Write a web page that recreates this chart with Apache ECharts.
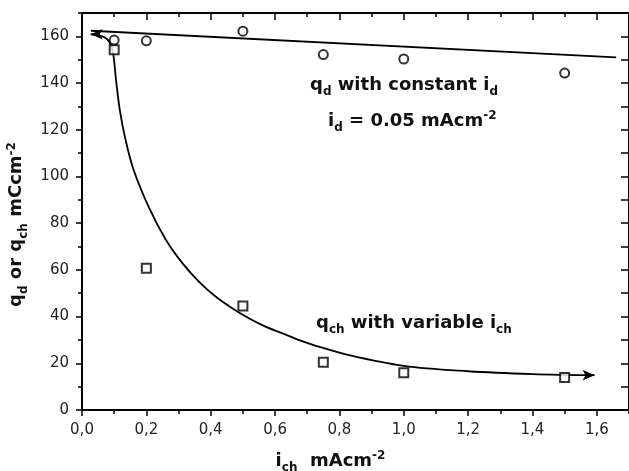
<!DOCTYPE html>
<html>
<head>
    <meta charset="utf-8">
    <title>q_d and q_ch vs i_ch</title>
    <script src="https://cdn.jsdelivr.net/npm/echarts@6/dist/echarts.min.js"></script>
    <style>
        html, body { margin: 0; padding: 0; background: #fff; }
        #chart { width: 629px; height: 471px; }
    </style>
</head>
<body>
<div id="chart"></div>
<script>
    // measured points
    var iCh = [0.1, 0.2, 0.5, 0.75, 1.0, 1.5];
    var qd = [158.4, 158.1, 162.2, 152.2, 150.3, 144.3];
    var qch = [154.3, 60.7, 44.5, 20.5, 15.9, 13.9];

    // straight trend line for q_d
    var qdLineX = [0.028, 1.66];
    var qdLineY = [162.4, 151.0];

    // hand-drawn curve for q_ch, arrows at both ends
    var qchCurveX = [0.027, 0.05, 0.07, 0.085, 0.096, 0.106, 0.118, 0.135, 0.16, 0.209, 0.261, 0.3125, 0.364, 0.416, 0.468, 0.52, 0.572, 0.623, 0.675, 0.727, 0.83, 1.0, 1.2, 1.4, 1.593];
    var qchCurveY = [160.9, 160.5, 159.6, 157.6, 153.5, 141.0, 128.0, 116.0, 103.0, 86.4, 72.8, 62.8, 54.9, 48.5, 43.5, 39.2, 35.6, 32.8, 29.9, 27.5, 23.5, 18.9, 16.6, 15.4, 14.9];

    var xTicks = [0, 1.7, 0.2];   // min, max, step
    var yTicks = [0, 170, 20];

    var FONT = 'DejaVu Sans';
    var rich = {
        b: { fontFamily: FONT, fontWeight: 'bold', fontSize: 18, fill: '#111', color: '#111', verticalAlign: 'middle' },
        sub: { fontFamily: FONT, fontWeight: 'bold', fontSize: 12, fill: '#111', color: '#111', verticalAlign: 'middle', padding: [14, 0, 0, 0] },
        sup: { fontFamily: FONT, fontWeight: 'bold', fontSize: 12, fill: '#111', color: '#111', verticalAlign: 'middle', padding: [0, 0, 10, 0] }
    };

    var chart = echarts.init(document.getElementById('chart'));

    var qchLine = qchCurveX.map(function (x, i) {
        var item = { value: [x, qchCurveY[i]] };
        if (i === 0) {
            item.symbol = 'arrow'; item.symbolSize = [8, 12]; item.symbolRotate = 90;
        } else if (i === qchCurveX.length - 1) {
            item.symbol = 'arrow'; item.symbolSize = [8, 12]; item.symbolRotate = -90;
        }
        return item;
    });

    function commaLabel(v) {
        return v.toFixed(1).replace('.', ',');
    }

    var axisLine = { show: true, onZero: false, lineStyle: { color: '#000', width: 2 } };
    var noLine = { show: false, onZero: false };

    var option = {
        animation: false,
        backgroundColor: '#fff',
        grid: { left: 82, right: 0, top: 13, bottom: 61, outerBoundsMode: 'none', containLabel: false },
        xAxis: [
            {
                type: 'value', position: 'bottom', min: xTicks[0], max: xTicks[1], interval: xTicks[2],
                axisLine: axisLine,
                axisTick: { inside: false, length: 6, lineStyle: { color: '#000', width: 1.5 } },
                axisLabel: { margin: 13, fontFamily: FONT, fontSize: 15, color: '#222', formatter: commaLabel, showMaxLabel: false },
                splitLine: { show: false },
                name: '{b|i}{sub|ch}{b|  mAcm}{sup|-2}',
                nameLocation: 'middle', nameGap: 38,
                nameTextStyle: { rich: rich, padding: [0, 50, 0, 0] }
            },
            {
                type: 'value', position: 'bottom', min: xTicks[0], max: xTicks[1], interval: xTicks[2] / 2,
                axisLine: noLine,
                axisTick: { inside: false, length: 4, lineStyle: { color: '#000', width: 1.5 } },
                axisLabel: { show: false }, splitLine: { show: false }
            },
            {
                type: 'value', position: 'top', min: xTicks[0], max: xTicks[1], interval: xTicks[2],
                axisLine: axisLine,
                axisTick: { inside: true, length: 7, lineStyle: { color: '#000', width: 1.5 } },
                axisLabel: { show: false }, splitLine: { show: false }
            },
            {
                type: 'value', position: 'top', min: xTicks[0], max: xTicks[1], interval: xTicks[2] / 2,
                axisLine: noLine,
                axisTick: { inside: true, length: 4, lineStyle: { color: '#000', width: 1.5 } },
                axisLabel: { show: false }, splitLine: { show: false }
            }
        ],
        yAxis: [
            {
                type: 'value', position: 'left', min: yTicks[0], max: yTicks[1], interval: yTicks[2],
                axisLine: axisLine,
                axisTick: { inside: false, length: 6, lineStyle: { color: '#000', width: 1.5 } },
                axisLabel: { margin: 13, fontFamily: FONT, fontSize: 15, color: '#222', showMaxLabel: false },
                splitLine: { show: false },
                name: '{b|q}{sub|d}{b| or q}{sub|ch}{b| mCcm}{sup|-2}',
                nameLocation: 'middle', nameGap: 48,
                nameTextStyle: { rich: rich, padding: [0, 26, 0, 0] }
            },
            {
                type: 'value', position: 'left', min: yTicks[0], max: yTicks[1], interval: yTicks[2] / 2,
                axisLine: noLine,
                axisTick: { inside: false, length: 4, lineStyle: { color: '#000', width: 1.5 } },
                axisLabel: { show: false }, splitLine: { show: false }
            },
            {
                type: 'value', position: 'right', min: yTicks[0], max: yTicks[1], interval: yTicks[2] / 2,
                axisLine: axisLine,
                axisTick: { inside: true, length: 8, lineStyle: { color: '#000', width: 1.5 } },
                axisLabel: { show: false }, splitLine: { show: false }
            }
        ],
        graphic: [
            { type: 'text', x: 310, y: 85, style: { text: '{b|q}{sub|d}{b| with constant i}{sub|d}', rich: rich, verticalAlign: 'middle' } },
            { type: 'text', x: 328, y: 121, style: { text: '{b|i}{sub|d}{b| = 0.05 mAcm}{sup|-2}', rich: rich, verticalAlign: 'middle' } },
            { type: 'text', x: 316, y: 323, style: { text: '{b|q}{sub|ch}{b| with variable i}{sub|ch}', rich: rich, verticalAlign: 'middle' } }
        ],
        series: [
            {
                name: 'q_d trend', type: 'line', symbol: 'none', z: 2,
                lineStyle: { color: '#000', width: 1.8 },
                data: qdLineX.map(function (x, i) { return [x, qdLineY[i]]; })
            },
            {
                name: 'q_ch trend', type: 'line', symbol: 'none', showSymbol: true, z: 2,
                smooth: 0.35,
                lineStyle: { color: '#000', width: 1.8 },
                itemStyle: { color: '#000' },
                data: qchLine
            },
            {
                name: 'q_d', type: 'scatter', symbol: 'emptyCircle', symbolSize: 9, z: 3,
                itemStyle: { color: '#000', borderWidth: 1.5 },
                data: iCh.map(function (x, i) { return [x, qd[i]]; })
            },
            {
                name: 'q_ch', type: 'scatter', symbol: 'emptyRect', symbolSize: 9, z: 3,
                itemStyle: { color: '#000', borderWidth: 1.5 },
                data: iCh.map(function (x, i) { return [x, qch[i]]; })
            }
        ]
    };

    chart.setOption(option);
</script>
</body>
</html>
